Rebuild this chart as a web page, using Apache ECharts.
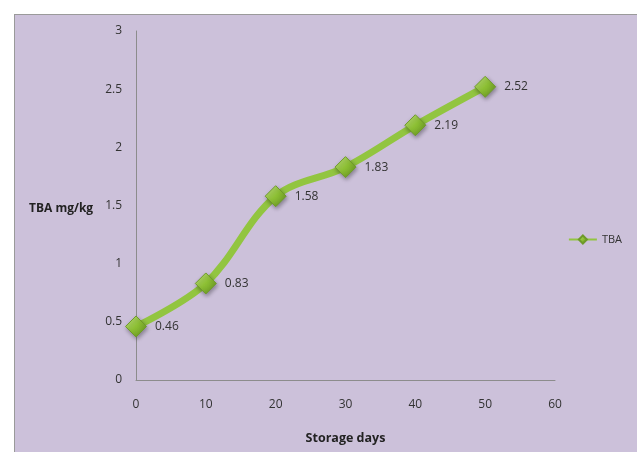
<!DOCTYPE html>
<html><head><meta charset="utf-8">
<script src="https://cdn.jsdelivr.net/npm/echarts@6/dist/echarts.min.js"></script>
<style>
html,body{margin:0;padding:0;background:#fff;}
#c{position:absolute;left:14px;top:14px;width:622px;height:437px;background:#CCC1DA;border-left:1px solid #9a9a9a;border-top:1px solid #9a9a9a;}
</style></head>
<body><div id="c"></div>
<script>
const days = [0, 10, 20, 30, 40, 50];
const tba = [0.46, 0.83, 1.58, 1.83, 2.19, 2.52];
const seriesName = 'TBA';
const xTitle = 'Storage days';
const yTitle = 'TBA mg/kg';

const chart = echarts.init(document.getElementById('c'));
const font = 'Open Sans';
chart.setOption({
  animation: false,
  textStyle: {fontFamily: font},
  grid: {left: 121, right: 82, top: 16, bottom: 72},
  legend: {
    right: 10, top: 214, orient: 'vertical',
    itemWidth: 28, itemHeight: 10,
    textStyle: {fontSize: 11, color: '#333', fontFamily: font},
    data: [seriesName]
  },
  xAxis: {
    type: 'value', min: 0, max: 60, interval: 10,
    name: xTitle, nameLocation: 'middle', nameGap: 52,
    nameTextStyle: {fontWeight: 'bold', fontSize: 12.5, color: '#222'},
    axisLine: {lineStyle: {color: '#8c8c8c'}},
    axisTick: {show: false},
    splitLine: {show: false},
    axisLabel: {fontSize: 12, color: '#333', margin: 19}
  },
  yAxis: {
    type: 'value', min: 0, max: 3, interval: 0.5,
    axisLine: {show: true, lineStyle: {color: '#8c8c8c'}},
    axisTick: {show: false},
    splitLine: {show: false},
    axisLabel: {fontSize: 12, color: '#333', margin: 14}
  },
  graphic: [{
    type: 'text', left: 14, top: 188,
    style: {text: yTitle, font: 'bold 12px "Open Sans"', fill: '#222'}
  }],
  series: [{
    name: seriesName, type: 'line', smooth: 0.35,
    data: days.map((d, i) => [d, tba[i]]),
    lineStyle: {color: '#92C540', width: 7},
    symbol: 'diamond', symbolSize: 21,
    itemStyle: {
      color: new echarts.graphic.LinearGradient(0, 0, 1, 1, [
        {offset: 0, color: '#C8E88A'}, {offset: 0.5, color: '#8DC034'}, {offset: 1, color: '#5E8A1E'}
      ]),
      borderColor: '#6E9A2A', borderWidth: 1,
      shadowColor: 'rgba(0,0,0,0.35)', shadowBlur: 4, shadowOffsetX: 1, shadowOffsetY: 2
    },
    label: {show: true, position: 'right', distance: 8, fontSize: 12, color: '#333', formatter: p => p.value[1].toFixed(2)}
  }]
});
</script></body></html>
